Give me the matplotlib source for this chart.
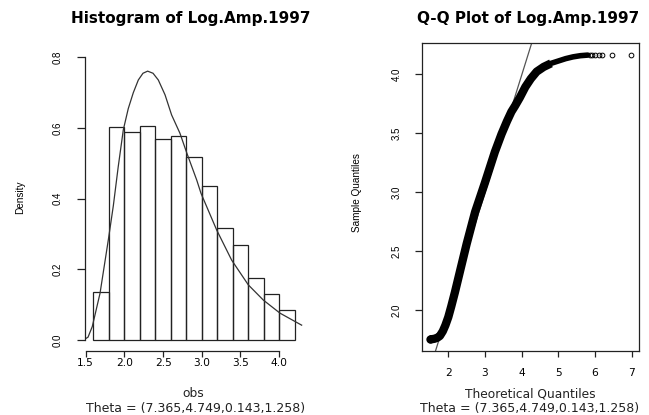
import numpy as np
import matplotlib
matplotlib.use("Agg")
import matplotlib.pyplot as plt

# histogram of Log.Amp.1997 (density scale), bins 1.6..4.2 by 0.2
bin_edges = [1.6, 1.8, 2.0, 2.2, 2.4, 2.6, 2.8, 3.0, 3.2, 3.4, 3.6, 3.8, 4.0, 4.2]
densities = [0.136, 0.604, 0.588, 0.607, 0.570, 0.576, 0.517, 0.436, 0.316, 0.270, 0.175, 0.130, 0.084]

# fitted density curve
curve_x = [1.47, 1.53, 1.585, 1.685, 1.792, 1.857, 1.92, 1.986, 2.05, 2.115, 2.18, 2.24, 2.30,
           2.37, 2.438, 2.525, 2.61, 2.718, 2.805, 2.934, 2.99, 3.193, 3.386, 3.601, 3.795, 4.01, 4.29]
curve_y = [0.0, 0.008, 0.038, 0.132, 0.283, 0.38, 0.49, 0.595, 0.655, 0.70, 0.736, 0.755, 0.761,
           0.755, 0.736, 0.694, 0.637, 0.585, 0.53, 0.453, 0.415, 0.311, 0.226, 0.156, 0.113, 0.076, 0.042]

# Q-Q points (dense part traced along the band, then the sparse tail)
qq_theo = [1.49, 1.53, 1.56, 1.62, 1.70, 1.77, 1.85, 1.92, 2.0, 2.08, 2.18, 2.32, 2.50, 2.73, 3.0,
           3.27, 3.45, 3.60, 3.72, 3.82, 3.95, 4.1, 4.25, 4.41, 4.6, 4.8, 5.0, 5.2, 5.4, 5.6, 5.8]
qq_samp = [1.752, 1.752, 1.753, 1.756, 1.765, 1.78, 1.82, 1.87, 1.94, 2.03, 2.15, 2.33, 2.56, 2.83, 3.08,
           3.34, 3.49, 3.60, 3.68, 3.73, 3.80, 3.89, 3.96, 4.02, 4.06, 4.09, 4.11, 4.13, 4.145, 4.155, 4.16]
tail_theo = [5.85, 5.92, 6.0, 6.1, 6.2, 6.45, 6.98]
tail_samp = [4.16, 4.16, 4.16, 4.16, 4.16, 4.16, 4.16]

line_intercept = 0.01
line_slope = 0.995

theta_txt = "Theta = (7.365,4.749,0.143,1.258)"

W, H = 649, 415
def rect(l, t, r, b):
    return [l / W, 1 - b / H, (r - l) / W, (b - t) / H]

fig = plt.figure(figsize=(W / 100, H / 100), dpi=100)
fig.patch.set_facecolor("white")
ink = "#222222"

# ---- left: histogram ----
ax1 = fig.add_axes(rect(85, 43.3, 310, 350.7))
ax1.bar(bin_edges[:-1], densities, width=np.diff(bin_edges), align="edge",
        fill=False, edgecolor=ink, linewidth=0.9)
ax1.plot(curve_x, curve_y, color="#333333", linewidth=0.9)
ax1.set_xlim(1.491, 4.398)
ax1.set_ylim(-0.0303, 0.8398)
ax1.set_xticks([1.5, 2.0, 2.5, 3.0, 3.5, 4.0])
ax1.set_xticklabels(["1.5", "2.0", "2.5", "3.0", "3.5", "4.0"])
ax1.set_yticks([0.0, 0.2, 0.4, 0.6, 0.8])
ax1.set_yticklabels(["0.0", "0.2", "0.4", "0.6", "0.8"])
for s in ["top", "right"]:
    ax1.spines[s].set_visible(False)
ax1.spines["left"].set_bounds(0.0, 0.8)
ax1.spines["bottom"].set_bounds(1.5, 4.0)
for s in ["left", "bottom"]:
    ax1.spines[s].set_color(ink)
    ax1.spines[s].set_linewidth(0.9)
ax1.tick_params(axis="x", direction="out", length=4.3, width=0.9, color=ink,
                pad=1, labelsize=7.7)
ax1.tick_params(axis="y", direction="out", length=5.5, width=0.9, color=ink,
                pad=10.5, labelsize=7, labelrotation=90)
for lab in ax1.get_yticklabels():
    lab.set_fontfamily("Liberation Sans")
    lab.set_va("center")

# ---- right: Q-Q plot ----
ax2 = fig.add_axes(rect(421.7, 43.3, 639.3, 350.7))
ax2.axline((0, line_intercept), slope=line_slope, color="#555555", linewidth=0.9)
# thick band of overlapping points: round start, butt end where it thins
ax2.plot(qq_theo[:26], qq_samp[:26], color="black", linewidth=6.0,
         solid_capstyle="butt", solid_joinstyle="round",
         marker="o", markevery=[0], markersize=6.0, markeredgewidth=0)
ax2.plot(qq_theo[25:], qq_samp[25:], color="black", linewidth=4.0,
         solid_capstyle="round", solid_joinstyle="round")
ax2.plot(tail_theo, tail_samp, linestyle="none", marker="o", markersize=3.4,
         markerfacecolor="none", markeredgecolor="black", markeredgewidth=0.7)
ax2.set_xlim(1.2746, 7.207)
ax2.set_ylim(1.655, 4.260)
ax2.set_xticks([2, 3, 4, 5, 6, 7])
ax2.set_yticks([2.0, 2.5, 3.0, 3.5, 4.0])
ax2.set_yticklabels(["2.0", "2.5", "3.0", "3.5", "4.0"])
for s in ax2.spines.values():
    s.set_color(ink)
    s.set_linewidth(0.9)
ax2.tick_params(axis="x", direction="out", length=4.3, width=0.9, color=ink,
                pad=8.5, labelsize=7.7)
ax2.tick_params(axis="y", direction="out", length=5.0, width=0.9, color=ink,
                pad=9.5, labelsize=7, labelrotation=90)
for lab in ax2.get_yticklabels():
    lab.set_fontfamily("Liberation Sans")
    lab.set_va("center")

# ---- titles and labels ----
def px_text(x, y, s, **kw):
    fig.text(x / W, 1 - y / H, s, ha="center", va="center", **kw)

px_text(190.3, 19, "Histogram of Log.Amp.1997", fontsize=11, fontweight="bold")
px_text(528.3, 19, "Q-Q Plot of Log.Amp.1997", fontsize=11, fontweight="bold")
px_text(20, 197, "Density", rotation=90, fontsize=7.2, family="Liberation Sans")
px_text(357, 193, "Sample Quantiles", rotation=90, fontsize=7.2, family="Liberation Sans")
px_text(193.3, 393.5, "obs", fontsize=8.8, color="#222222")
px_text(195.5, 408.2, theta_txt, fontsize=9, color="#222222")
px_text(530, 393.5, "Theoretical Quantiles", fontsize=8.8, color="#222222")
px_text(530, 408.2, theta_txt, fontsize=9, color="#222222")

fig.savefig("out.png", dpi=100)
